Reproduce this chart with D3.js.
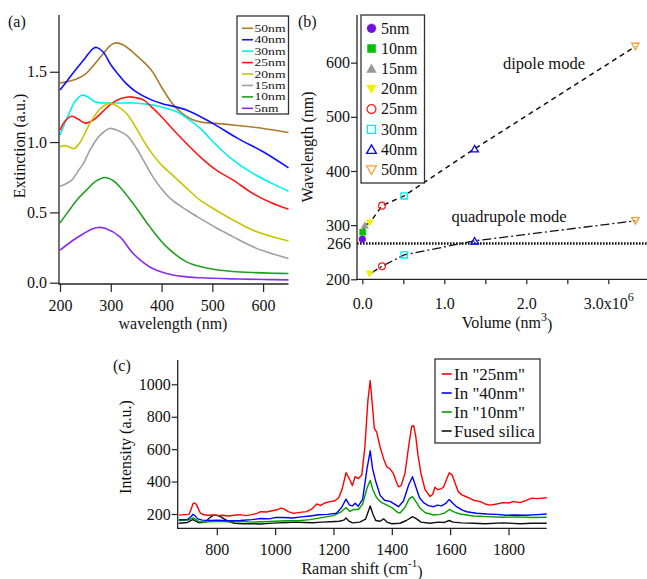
<!DOCTYPE html>
<html><head><meta charset="utf-8">
<script src="https://cdn.jsdelivr.net/npm/d3@7"></script>
<style>
html,body{margin:0;padding:0;background:#fff;}
svg{display:block;}
svg text{font-family:'Liberation Serif','DejaVu Serif','Noto Serif',serif;}
</style></head><body>
<svg id="fig" width="647" height="579"></svg>
<script>
// ================= DATA =================
// Panel (a): extinction spectra [wavelength nm, extinction a.u.]
const extLabels = ["50nm","40nm","30nm","25nm","20nm","15nm","10nm","5nm"];
const extColors = ["#a87c30","#1010ff","#00f0f0","#ff1818","#c8c400","#a0a0a0","#20a020","#8a2cf0"];
const ext50 = [[200,1.42],[230,1.445],[250,1.483],[280,1.606],[300,1.69],[310,1.705],[325,1.69],[350,1.618],[380,1.511],[400,1.39],[420,1.28],[440,1.205],[460,1.16],[480,1.14],[500,1.135],[550,1.118],[600,1.097],[650,1.068]];
const ext40 = [[200,1.37],[215,1.44],[230,1.51],[250,1.60],[265,1.665],[272,1.673],[285,1.64],[300,1.55],[315,1.48],[330,1.417],[350,1.357],[380,1.30],[400,1.275],[450,1.227],[500,1.135],[550,1.026],[600,0.931],[650,0.817]];
const ext30 = [[200,1.05],[215,1.18],[230,1.29],[243,1.333],[255,1.32],[270,1.285],[290,1.278],[320,1.278],[345,1.278],[370,1.27],[400,1.25],[430,1.215],[450,1.17],[476,1.097],[508,0.978],[541,0.871],[580,0.777],[615,0.71],[650,0.651]];
const ext25 = [[200,1.085],[210,1.15],[223,1.184],[237,1.16],[250,1.135],[265,1.155],[285,1.22],[300,1.27],[320,1.31],[335,1.321],[350,1.315],[365,1.298],[380,1.25],[397,1.191],[430,1.061],[476,0.895],[508,0.80],[541,0.729],[580,0.634],[615,0.57],[650,0.523]];
const ext20 = [[200,0.966],[210,0.975],[218,0.965],[228,0.954],[240,1.0],[252,1.085],[265,1.17],[280,1.24],[298,1.275],[315,1.25],[331,1.203],[350,1.10],[364,1.013],[380,0.925],[397,0.848],[420,0.77],[450,0.67],[476,0.587],[510,0.51],[541,0.445],[580,0.373],[615,0.33],[650,0.297]];
const ext15 = [[200,0.686],[210,0.70],[223,0.729],[235,0.79],[246,0.848],[260,0.95],[279,1.049],[298,1.097],[315,1.08],[331,1.049],[350,0.96],[364,0.871],[380,0.77],[397,0.681],[420,0.59],[450,0.515],[476,0.457],[510,0.385],[541,0.326],[580,0.255],[615,0.21],[650,0.172]];
const ext10 = [[200,0.425],[215,0.50],[233,0.587],[252,0.658],[270,0.72],[289,0.748],[305,0.725],[318,0.681],[344,0.563],[377,0.397],[410,0.255],[449,0.148],[476,0.115],[508,0.092],[540,0.080],[580,0.072],[620,0.067],[650,0.065]];
const ext5  = [[200,0.231],[225,0.30],[247,0.35],[262,0.38],[275,0.393],[290,0.385],[318,0.326],[344,0.208],[377,0.112],[410,0.065],[440,0.045],[476,0.035],[540,0.027],[600,0.023],[650,0.02]];
const extSeries = [ext50,ext40,ext30,ext25,ext20,ext15,ext10,ext5];
const extXTicks = [200,300,400,500,600];
const extYTicks = [0,0.5,1.0,1.5];

// Panel (b): resonance wavelength vs volume (x10^6 nm^3)
const sizeLabels = ["5nm","10nm","15nm","20nm","25nm","30nm","40nm","50nm"];
const sizeColors = ["#7010e0","#00c000","#999999","#f0f000","#ff2020","#00e8f0","#0000ff","#ffa030"];
const sizeFilled = [true,true,true,true,false,false,false,false];
const sizeShapes = ["circle","square","triUp","triDown","circle","square","triUp","triDown"];
const volumes = [0.0,0.005,0.03,0.09,0.24,0.51,1.37,3.33];
const dipoleWl = [274,287,300,304,336,354,441,630];
const quadWl = [null,null,null,210,224,245,271,308];
const volXTicks = [0,0.5,1,1.5,2,2.5,3];
const wlYTicks = [200,300,400,500,600];
const refLine = 266;

// Panel (c): Raman spectra [shift cm-1, intensity]
const ramanLabels = ['In "25nm"','In "40nm"','In "10nm"','Fused silica'];
const ramanColors = ["#ff0000","#0000ff","#00a000","#111111"];
const raman25 = [[670,193],[690,196],[705,198],[712,230],[718,262],[724,268],[730,258],[737,230],[744,205],[755,195],[770,192],[790,194],[805,190],[820,192],[840,188],[860,192],[880,196],[900,190],[920,196],[940,205],[950,214],[970,212],[990,220],[1010,228],[1020,236],[1030,232],[1045,215],[1063,204],[1085,210],[1108,215],[1125,230],[1143,262],[1155,252],[1170,268],[1188,276],[1205,282],[1218,300],[1230,355],[1243,455],[1257,408],[1265,375],[1274,430],[1285,418],[1297,440],[1308,620],[1318,900],[1326,1023],[1333,880],[1340,730],[1348,705],[1360,612],[1372,540],[1383,490],[1394,478],[1406,448],[1415,400],[1423,368],[1432,375],[1445,450],[1458,620],[1468,740],[1475,745],[1482,680],[1490,560],[1500,450],[1514,350],[1531,308],[1540,320],[1548,365],[1558,350],[1568,355],[1577,365],[1587,410],[1597,455],[1607,440],[1617,390],[1628,338],[1640,318],[1657,305],[1680,285],[1703,276],[1720,262],[1737,255],[1760,262],[1780,270],[1800,268],[1817,276],[1840,270],[1863,286],[1880,298],[1900,295],[1931,300]];
const raman40 = [[670,165],[700,166],[712,185],[718,198],[725,190],[735,170],[750,162],[780,160],[800,162],[840,158],[880,160],[920,165],[950,172],[980,170],[1000,178],[1030,178],[1060,175],[1090,182],[1120,188],[1150,195],[1180,198],[1210,205],[1228,240],[1243,292],[1255,255],[1265,250],[1274,266],[1285,248],[1300,290],[1315,480],[1326,590],[1334,480],[1345,400],[1360,315],[1375,285],[1394,278],[1408,262],[1423,245],[1440,280],[1458,380],[1471,430],[1482,370],[1495,300],[1509,270],[1525,252],[1543,245],[1557,255],[1570,250],[1585,265],[1597,290],[1610,265],[1622,245],[1640,225],[1657,214],[1690,205],[1726,200],[1760,198],[1790,192],[1817,194],[1860,192],[1900,196],[1931,200]];
const raman10 = [[670,160],[700,162],[712,170],[718,176],[725,170],[740,152],[760,150],[800,155],[840,152],[880,155],[920,150],[960,152],[1000,155],[1040,158],[1080,158],[1120,165],[1160,178],[1200,190],[1228,215],[1243,240],[1256,216],[1270,228],[1285,228],[1300,260],[1315,360],[1326,408],[1335,350],[1348,300],[1365,270],[1380,258],[1400,240],[1420,210],[1428,206],[1445,240],[1460,295],[1471,307],[1485,270],[1497,235],[1515,208],[1543,194],[1565,198],[1580,205],[1597,228],[1615,212],[1634,200],[1680,188],[1726,184],[1780,180],[1830,182],[1880,178],[1931,180]];
const ramanSilica = [[670,143],[700,148],[712,160],[718,166],[726,158],[740,145],[760,150],[775,175],[788,193],[800,192],[811,185],[825,170],[840,155],[860,143],[890,140],[920,140],[950,138],[980,142],[1010,145],[1040,148],[1070,150],[1100,148],[1130,146],[1160,150],[1190,152],[1220,155],[1235,162],[1243,175],[1252,158],[1265,145],[1290,150],[1310,168],[1326,250],[1335,200],[1345,160],[1360,155],[1372,170],[1385,148],[1400,140],[1428,143],[1450,160],[1471,184],[1485,170],[1500,150],[1530,143],[1560,150],[1580,148],[1597,160],[1610,150],[1640,145],[1680,143],[1720,140],[1780,145],[1840,140],[1880,143],[1931,143]];
const ramanSeries = [raman25,raman40,raman10,ramanSilica];
const ramanXTicks = [800,1000,1200,1400,1600,1800];
const ramanYTicks = [200,400,600,800,1000];

// ================= DRAW =================
const svg = d3.select("#fig");
const AX = "#222";

function styleAxis(g, fs){
  g.attr("font-family",null);
  g.selectAll("path.domain").remove();
  g.selectAll(".tick line").attr("stroke",AX).attr("stroke-width",1.2);
  g.selectAll(".tick text").attr("font-size",fs).attr("fill","#111");
}
function line(x1,y1,x2,y2){
  return svg.append("line").attr("x1",x1).attr("y1",y1).attr("x2",x2).attr("y2",y2)
    .attr("stroke",AX).attr("stroke-width",1.3);
}
function text(x,y,s,fs,anchor){
  return svg.append("text").attr("x",x).attr("y",y).attr("font-size",fs)
    .attr("text-anchor",anchor||"start").attr("fill","#111").text(s);
}

// ---------- Panel (a) ----------
{
  const x = d3.scaleLinear().domain([198,650]).range([59,288.5]);
  const y = d3.scaleLinear().domain([0,1.9]).range([282.7,15.5]);
  const gen = d3.line().x(d=>x(d[0])).y(d=>y(d[1])).curve(d3.curveCatmullRom.alpha(0.5));
  extSeries.forEach((s,i)=>{
    svg.append("path").attr("d",gen(s)).attr("fill","none")
      .attr("stroke",extColors[i]).attr("stroke-width",1.6);
  });
  const gy = svg.append("g").attr("transform","translate(59,0)")
    .call(d3.axisLeft(y).tickValues(extYTicks).tickFormat(d3.format(".1f")).tickSize(9).tickPadding(3).tickSizeOuter(0));
  styleAxis(gy,16);
  const gx = svg.append("g").attr("transform","translate(0,284)")
    .call(d3.axisBottom(x).tickValues(extXTicks).tickFormat(d3.format("d")).tickSize(8).tickPadding(7.5).tickSizeOuter(0));
  styleAxis(gx,16);
  line(59,15,59,284.6);
  line(58.4,284,288.5,284);
  text(173,329,"wavelength (nm)",16,"middle");
  text(0,0,"Extinction (a.u.)",16,"middle").attr("transform","translate(25,146) rotate(-90)");
  text(8,27,"(a)",16);
  // legend
  svg.append("rect").attr("x",237).attr("y",16).attr("width",51.5).attr("height",98)
    .attr("fill","#fff").attr("stroke","#333").attr("stroke-width",1.3);
  extLabels.forEach((lab,i)=>{
    const ry = 28.3 + i*11.43;
    svg.append("line").attr("x1",242).attr("x2",253).attr("y1",ry).attr("y2",ry)
      .attr("stroke",extColors[i]).attr("stroke-width",1.6);
    text(254.5,ry+3.6,lab,10.2)
      .attr("textLength", lab.length===4 ? 31 : 24).attr("lengthAdjust","spacingAndGlyphs");
  });
}

// ---------- Panel (b) ----------
{
  const x = d3.scaleLinear().domain([-0.065,3.472]).range([357,647]);
  const y = d3.scaleLinear().domain([200,688]).range([279.3,15]);
  svg.append("line").attr("x1",x(-0.065)).attr("x2",647).attr("y1",y(refLine)).attr("y2",y(refLine))
    .attr("stroke","#111").attr("stroke-width",2.6).attr("stroke-dasharray","1.6,1.4");
  const dip = volumes.map((v,i)=>[v,dipoleWl[i]]).slice(1);
  svg.append("path").attr("d",d3.line().x(d=>x(d[0])).y(d=>y(d[1]))(dip))
    .attr("fill","none").attr("stroke","#111").attr("stroke-width",1.5).attr("stroke-dasharray","5,4");
  const quad = volumes.map((v,i)=>[v,quadWl[i]]).filter(d=>d[1]!==null);
  svg.append("path").attr("d",d3.line().x(d=>x(d[0])).y(d=>y(d[1]))(quad))
    .attr("fill","none").attr("stroke","#111").attr("stroke-width",1.3).attr("stroke-dasharray","9,3,2,3");
  function sym(shape, big){
    const k = big ? 1.7 : 1;
    if(shape==="circle") return d3.symbol().type(d3.symbolCircle).size(36*k)();
    if(shape==="square") return d3.symbol().type(d3.symbolSquare).size(38*k)();
    return d3.symbol().type(d3.symbolTriangle).size(24*k)();
  }
  function drawMark(cx,cy,i,big){
    const sh = sizeShapes[i];
    const rot = sh==="triDown" ? 180 : 0;
    const dyc = sh==="triUp" ? 1 : (sh==="triDown" ? -1 : 0);
    svg.append("path").attr("d",sym(sh,big))
      .attr("transform",`translate(${cx},${cy+dyc}) rotate(${rot})`)
      .attr("fill",sizeFilled[i]?sizeColors[i]:"none")
      .attr("stroke",sizeColors[i]).attr("stroke-width",sizeFilled[i]?0.5:1.3);
  }
  volumes.forEach((v,i)=>{
    drawMark(x(v),y(dipoleWl[i]),i,false);
    if(quadWl[i]!==null) drawMark(x(v),y(quadWl[i]),i,false);
  });
  const gy = svg.append("g").attr("transform","translate(357,0)")
    .call(d3.axisLeft(y).tickValues(wlYTicks).tickFormat(d3.format("d")).tickSize(6).tickPadding(1).tickSizeOuter(0));
  styleAxis(gy,16);
  text(351,y(refLine)+5.2,"266",16,"end");
  const gx = svg.append("g").attr("transform","translate(0,279.3)")
    .call(d3.axisBottom(x).tickValues(volXTicks).tickSize(5).tickPadding(13).tickSizeOuter(0)
      .tickFormat(d=> Number.isInteger(d) ? d3.format(".1f")(d) : ""));
  styleAxis(gx,16);
  gx.selectAll(".tick text").filter(d=>d===3).each(function(){
    const t = d3.select(this); t.text("3.0x10");
    t.append("tspan").attr("dy","-0.6em").attr("font-size",12).text("6");
  });
  line(357,15,357,279.9);
  line(356.4,279.3,647,279.3);
  const vl = text(507,328,"Volume (nm",16,"middle");
  vl.append("tspan").attr("dy","-0.6em").attr("font-size",12).text("3");
  vl.append("tspan").attr("dy","0.6em").text(")");
  text(0,0,"Wavelength (nm)",16,"middle").attr("transform","translate(313,147) rotate(-90)");
  text(298,27,"(b)",16);
  text(503,68.5,"dipole mode",16.5);
  text(451.5,222,"quadrupole mode",16.5);
  svg.append("rect").attr("x",361).attr("y",15).attr("width",63.5).attr("height",168)
    .attr("fill","#fff").attr("stroke","#333").attr("stroke-width",1.3);
  sizeLabels.forEach((lab,i)=>{
    const ry = 28.3 + i*20.2;
    drawMark(371.5,ry,i,true);
    text(381,ry+5.3,lab,16);
  });
}

// ---------- Panel (c) ----------
{
  const x = d3.scaleLinear().domain([666,1931]).range([177.7,546.7]);
  const y = d3.scaleLinear().domain([111.8,1150]).range([528.3,360]);
  const gen = d3.line().x(d=>x(d[0])).y(d=>y(d[1]));
  for(let i=ramanSeries.length-1;i>=0;i--){
    svg.append("path").attr("d",gen(ramanSeries[i])).attr("fill","none")
      .attr("stroke",ramanColors[i]).attr("stroke-width",1.4).attr("stroke-linejoin","round");
  }
  const gy = svg.append("g").attr("transform","translate(177.7,0)")
    .call(d3.axisLeft(y).tickValues(ramanYTicks).tickFormat(d3.format("d")).tickSize(6).tickPadding(1).tickSizeOuter(0));
  styleAxis(gy,16);
  const gx = svg.append("g").attr("transform","translate(0,528.3)")
    .call(d3.axisBottom(x).tickValues(ramanXTicks).tickFormat(d3.format("d")).tickSize(7).tickPadding(8).tickSizeOuter(0));
  styleAxis(gx,16);
  line(177.7,360,177.7,528.9);
  line(177.1,528.3,546.7,528.3);
  const rl = text(362,574,"Raman shift (cm",16,"middle");
  rl.append("tspan").attr("dy","-0.6em").attr("font-size",11).text("-1");
  rl.append("tspan").attr("dy","0.6em").text(")");
  text(0,0,"Intensity (a.u.)",16,"middle").attr("transform","translate(131,447) rotate(-90)");
  text(113,371,"(c)",16);
  svg.append("rect").attr("x",435).attr("y",359).attr("width",105).attr("height",84)
    .attr("fill","#fff").attr("stroke","#333").attr("stroke-width",1.3);
  ramanLabels.forEach((lab,i)=>{
    const ry = 374 + i*19;
    svg.append("line").attr("x1",441.7).attr("x2",451.7).attr("y1",ry).attr("y2",ry)
      .attr("stroke",ramanColors[i]).attr("stroke-width",1.6);
    text(454,ry+5.6,lab,17);
  });
}
</script>
</body></html>
